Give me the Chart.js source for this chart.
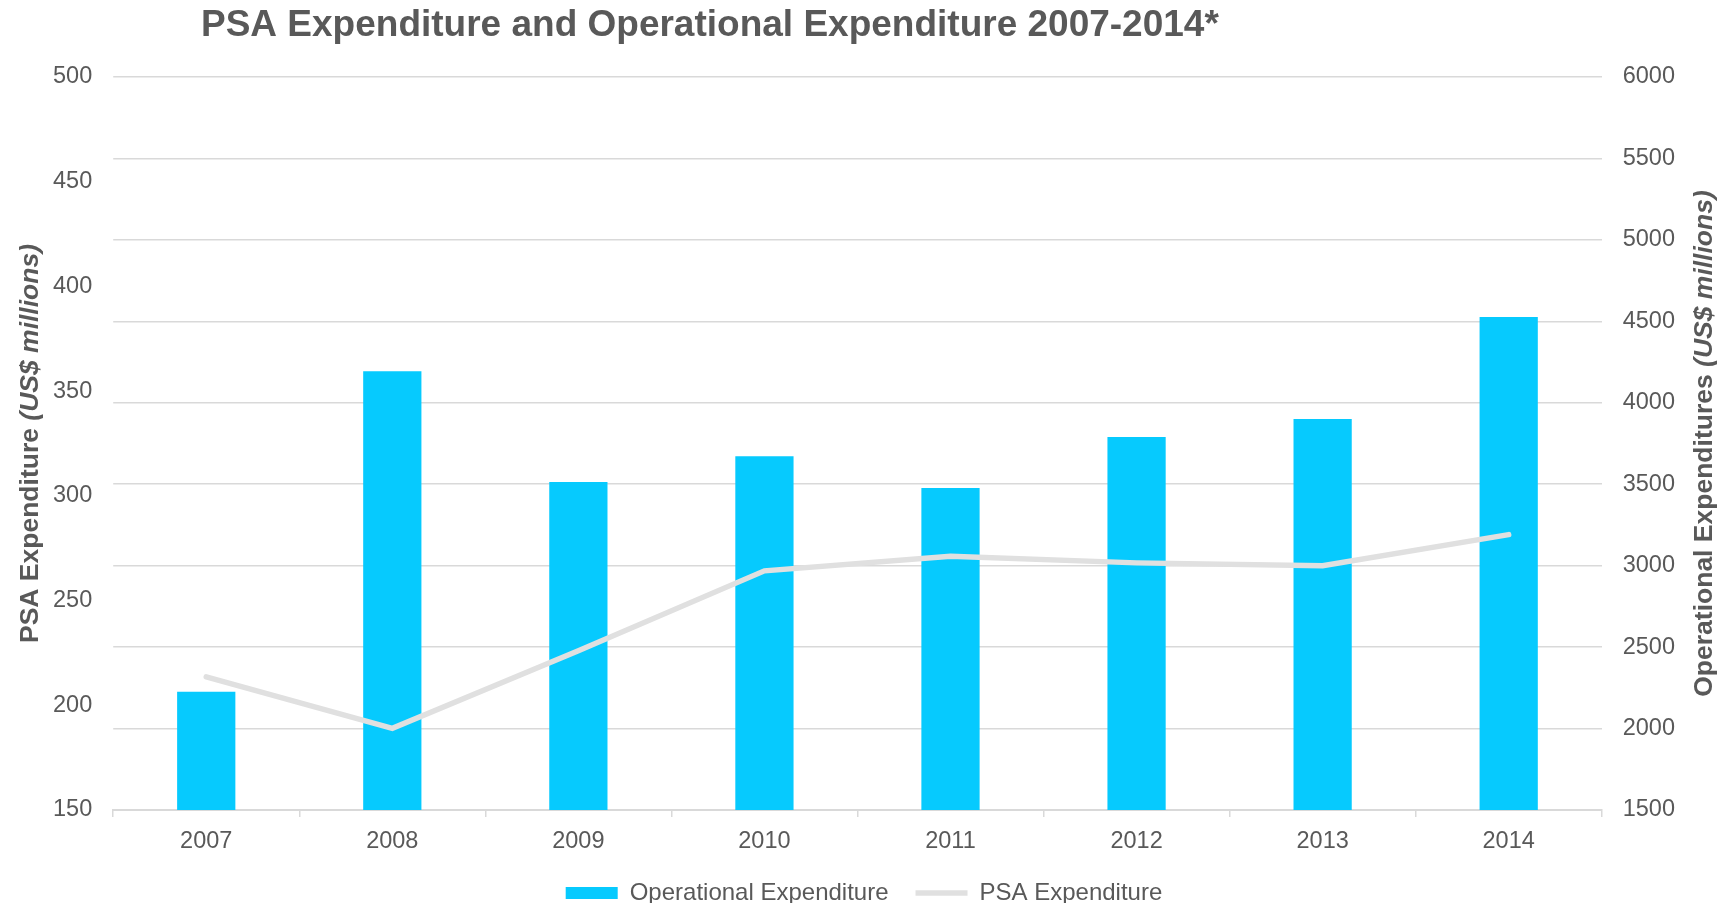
<!DOCTYPE html>
<html>
<head>
<meta charset="utf-8">
<title>PSA Expenditure and Operational Expenditure 2007-2014</title>
<script src="https://cdn.jsdelivr.net/npm/chart.js@4.4.1/dist/chart.umd.min.js"></script>
<style>
  html, body { margin: 0; padding: 0; background: #ffffff; }
  #wrap { width: 1719px; height: 903px; }
</style>
</head>
<body>
<div id="wrap"><canvas id="expChart" width="1719" height="903"></canvas></div>
<script>
// chart data
const years = ['2007', '2008', '2009', '2010', '2011', '2012', '2013', '2014'];
const opexValues = [2226, 4193, 3514, 3672, 3477, 3790, 3901, 4526];
const psaValues = [213.6, 189, 226, 264.2, 271.2, 268, 266.6, 281.5];
const psaTicks = [150, 200, 250, 300, 350, 400, 450, 500];
const opexTicks = [1500, 2000, 2500, 3000, 3500, 4000, 4500, 5000, 5500, 6000];

const chartTitle = 'PSA Expenditure and Operational Expenditure 2007-2014*';
const textGrey = '#595959';
const gridGrey = '#d9d9d9';
const fontFamily = '"Liberation Sans", Arial, sans-serif';

function drawAxisTitle(ctx, plain, italic, x, y) {
    const fPlain = 'bold 26.5px ' + fontFamily;
    const fItalic = 'italic bold 26.5px ' + fontFamily;
    ctx.font = fPlain;
    const w1 = ctx.measureText(plain).width;
    ctx.font = fItalic;
    const w2 = ctx.measureText(italic).width;
    ctx.save();
    ctx.translate(x, y);
    ctx.rotate(-Math.PI / 2);
    ctx.textAlign = 'left';
    ctx.textBaseline = 'alphabetic';
    const start = -(w1 + w2) / 2;
    ctx.font = fPlain;
    ctx.fillText(plain, start, 0);
    ctx.font = fItalic;
    ctx.fillText(italic, start + w1, 0);
    ctx.restore();
}

// title and axis titles (mixed bold / bold italic)
const textPlugin = {
    id: 'chartTexts',
    afterDraw(chart) {
        const ctx = chart.ctx;
        const area = chart.chartArea;
        const midY = (area.top + area.bottom) / 2;
        ctx.save();
        ctx.fillStyle = textGrey;
        ctx.font = 'bold 37px ' + fontFamily;
        ctx.textAlign = 'left';
        ctx.textBaseline = 'alphabetic';
        ctx.fillText(chartTitle, 201, 36);
        drawAxisTitle(ctx, 'PSA Expenditure ', '(US$ millions)', 37.5, midY);
        drawAxisTitle(ctx, 'Operational Expenditures ', '(US$ millions)', 1712, midY);
        ctx.restore();
    }
};

const ctx = document.getElementById('expChart').getContext('2d');
const expChart = new Chart(ctx, {
    type: 'bar',
    data: {
        labels: years,
        datasets: [{
            type: 'bar',
            label: 'Operational Expenditure',
            data: opexValues,
            yAxisID: 'y1',
            backgroundColor: '#06cafe',
            borderWidth: 0,
            barPercentage: 0.313,
            categoryPercentage: 1,
            pointStyle: 'rect',
            order: 1
        }, {
            type: 'line',
            label: 'PSA Expenditure',
            data: psaValues,
            yAxisID: 'y',
            borderColor: '#e0e0e0',
            backgroundColor: '#e0e0e0',
            borderWidth: 5.5,
            borderCapStyle: 'round',
            pointRadius: 0,
            pointHoverRadius: 0,
            pointStyle: 'line',
            tension: 0,
            order: 0
        }]
    },
    options: {
        responsive: false,
        animation: false,
        layout: {
            padding: { top: 77, left: 32, right: 23, bottom: -12 }
        },
        plugins: {
            title: { display: false },
            tooltip: { enabled: false },
            legend: {
                position: 'bottom',
                labels: {
                    usePointStyle: true,
                    pointStyleWidth: 52,
                    boxHeight: 12,
                    padding: 27,
                    color: textGrey,
                    font: { family: fontFamily, size: 24 },
                    sort: (a, b) => a.datasetIndex - b.datasetIndex
                }
            }
        },
        scales: {
            x: {
                offset: true,
                grid: {
                    offset: true,
                    drawOnChartArea: false,
                    drawTicks: true,
                    tickLength: 7,
                    color: gridGrey,
                    lineWidth: 1.5
                },
                border: { display: true, color: gridGrey, width: 2 },
                ticks: {
                    color: textGrey,
                    padding: 10.5,
                    font: { family: fontFamily, size: 23.5 }
                },
                // drop the bottom tick padding so the legend sits closer
                afterFit: scale => { scale.height = 44; }
            },
            y: {
                position: 'left',
                min: 150,
                max: 500,
                afterBuildTicks: axis => { axis.ticks = psaTicks.map(v => ({ value: v })); },
                grid: { display: false, drawTicks: false },
                border: { display: false },
                ticks: {
                    color: textGrey,
                    padding: 21,
                    font: { family: fontFamily, size: 23.5 },
                    callback: v => String(v)
                }
            },
            y1: {
                position: 'right',
                min: 1500,
                max: 6000,
                afterBuildTicks: axis => { axis.ticks = opexTicks.map(v => ({ value: v })); },
                grid: { color: gridGrey, lineWidth: 1.5, drawTicks: false },
                border: { display: false },
                ticks: {
                    color: textGrey,
                    padding: 21,
                    font: { family: fontFamily, size: 23.5 },
                    callback: v => String(v)
                }
            }
        }
    },
    plugins: [textPlugin]
});
</script>
</body>
</html>
